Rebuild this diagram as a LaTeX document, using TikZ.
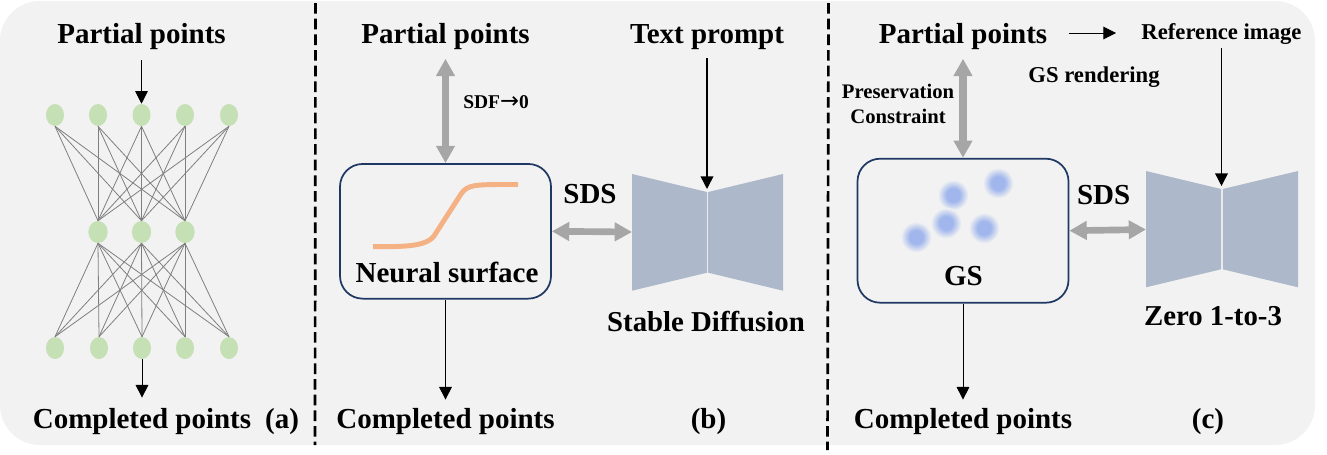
\documentclass[tikz,border=0pt]{standalone}
\usepackage{fontspec}
\setmainfont{Liberation Serif}[BoldFont={Liberation Serif Bold}]
\newfontfamily\arrowfont{DejaVu Sans}
\usetikzlibrary{arrows.meta,shapes.geometric}
\definecolor{panelbg}{HTML}{F2F2F2}
\definecolor{nodegreen}{HTML}{C5E0B4}
\definecolor{edgegray}{HTML}{7F7F7F}
\definecolor{thickgray}{HTML}{A6A6A6}
\definecolor{boxblue}{HTML}{1F3864}
\definecolor{hourglass}{HTML}{ADB9CA}
\definecolor{curveorange}{HTML}{F4B183}
\definecolor{blobblue}{HTML}{A0B6EC}
\pgfdeclareradialshading{blobshade}{\pgfpointorigin}{%
  color(0bp)=(blobblue); color(11bp)=(blobblue); color(25bp)=(panelbg); color(50bp)=(panelbg)}
\tikzset{
  lab/.style={anchor=base,inner sep=0pt,font=\bfseries\fontsize{#1}{#1}\selectfont},
  nn/.style={ellipse,fill=nodegreen,inner sep=0pt,minimum width=13.5pt,minimum height=16.5pt},
  nnmid/.style={nn,minimum width=14.5pt},
  nedge/.style={draw=edgegray,line width=.6pt},
  blackarrow/.style={draw=black,line width=.75pt,-{Triangle[width=9.5pt,length=9.5pt]}},
  heavyarrow/.style={blackarrow,line width=1.1pt},
  grayarrow/.style={draw=thickgray,line width=#1,{Triangle[width=13.5pt,length=13pt]}-{Triangle[width=13.5pt,length=13pt]}},
  roundbox/.style={draw=boxblue,line width=1.3pt,rounded corners=17pt,inner sep=0pt},
  hgshape/.style={fill=hourglass},
  divider/.style={draw=black,line width=2pt,dash pattern=on 8pt off 3.75pt},
  blob/.style={circle,inner sep=0pt,minimum size=23pt,shading=blobshade}
}
\begin{document}
\begin{tikzpicture}[x=.75pt,y=-.75pt]
\useasboundingbox (0,0) rectangle (1327,454);
\fill[white] (0,0) rectangle (1327,454);
\fill[panelbg,rounded corners=30pt] (0,1) rectangle (1315,445);
% dividers
\coordinate (d1a) at (315.5,3); \coordinate (d1b) at (315,445);
\coordinate (d2a) at (828.5,3); \coordinate (d2b) at (827.5,450);
\draw[divider] (d1a) -- (d1b);
\draw[divider] (d2a) -- (d2b);
% panel (a)
\node[lab=21.75pt] (pa) at (141.5,43) {Partial points};
\node[lab=21.75pt] (ca) at (142,428) {Completed points};
\node[lab=21.75pt] (la) at (282,428) {(a)};
\foreach \i/\x in {1/55,2/98,3/141.5,4/185,5/229}
  \node[nn] (t\i) at (\x,115) {};
\foreach \i/\x in {1/98,2/141.5,3/185}
  \node[nnmid] (m\i) at (\x,232) {};
\foreach \i/\x in {1/55,2/99,3/142,4/185,5/229}
  \node[nn] (u\i) at (\x,348) {};
\foreach \i in {1,...,5}
  \foreach \j in {1,2,3} {
    \draw[nedge] (t\i.south) -- (m\j.north);
    \draw[nedge] (m\j.south) -- (u\i.north);
  }
\draw[blackarrow,shorten <=8pt] (pa.south) -- (t3.north);
\draw[blackarrow,shorten >=7.5pt] (u3.south) -- (u3.south |- ca.north);
% panel (b)
\node[lab=21.75pt] (pb) at (445.5,43) {Partial points};
\node[lab=21.75pt] (tp) at (707,43) {Text prompt};
\node[lab=14.6pt] (sdf) at (496,108) {SDF{\arrowfont\mdseries\fontsize{17pt}{17pt}\selectfont →}0};
\node[roundbox,minimum width=158.25pt,minimum height=101pt] (nsbox) at (445.5,231.3) {};
\draw[curveorange,line width=3.7pt] (373,246.7) .. controls (400,246.5) and (425,247.5) .. (434,236)
  -- (461,194) .. controls (468,184) and (475,184.5) .. (518,184.5);
\node[lab=21.75pt] (nst) at (447,282) {Neural surface};
\node[lab=21.75pt] (sdsb) at (590,203) {SDS};
\fill[hgshape] (632,174) -- (707,192) -- (707,272.7) -- (632,290.7) -- cycle;
\fill[hgshape] (708.2,192) -- (783,174) -- (783,290.7) -- (708.2,272.7) -- cycle;
\coordinate (sdwaist) at (707.5,189);
\coordinate (sdleft) at (632,232);
\node[lab=21.6pt] (sdt) at (706,331) {Stable Diffusion};
\node[lab=21.75pt] (cb) at (445.5,428) {Completed points};
\node[lab=21.75pt] (lb) at (708.5,428) {(b)};
\draw[grayarrow=5.5pt,shorten <=7pt] (pb.south) -- (nsbox.north);
\draw[heavyarrow,shorten <=6.5pt] (tp.south) -- (tp.south |- sdwaist);
\draw[grayarrow=5pt] (nsbox.east) -- (sdleft);
\draw[blackarrow,shorten >=6pt] (nsbox.south) -- (nsbox.south |- cb.north);
% panel (c)
\node[lab=21.75pt] (pc) at (963,43) {Partial points};
\node[lab=17pt] (ri) at (1221.5,39) {Reference image};
\node[lab=17pt] (gsr) at (1094,82) {GS rendering};
\node[lab=15.5pt] (pres) at (898,98) {Preservation};
\node[lab=15.5pt] (cons) at (898,123) {Constraint};
\node[roundbox,minimum width=158.25pt,minimum height=108pt] (gsbox) at (963,230.7) {};
\foreach \i/\x/\y in {1/953/195,2/998/183,3/946/223,4/984/228,5/916/237}
  \node[blob] (g\i) at (\x,\y) {};
\node[lab=21.75pt] (gst) at (963.5,285.7) {GS};
\node[lab=21.75pt] (sdsc) at (1103.7,204) {SDS};
\fill[hgshape] (1146,171) -- (1221,189) -- (1221,269.3) -- (1146,287.3) -- cycle;
\fill[hgshape] (1222.8,189) -- (1298,171) -- (1298,287.3) -- (1222.8,269.3) -- cycle;
\coordinate (zwaist) at (1221.5,186);
\coordinate (zleft) at (1146,229.5);
\node[lab=21.6pt] (zt) at (1213,325.7) {Zero 1-to-3};
\node[lab=21.75pt] (cc) at (963,428) {Completed points};
\node[lab=21.75pt] (lc) at (1208,428) {(c)};
\coordinate (hstart) at (1069,33);
\coordinate (hend) at (1116,33);
\draw[blackarrow] (hstart) -- (hend);
\draw[grayarrow=5.5pt,shorten <=7pt] (pc.south) -- (gsbox.north);
\draw[heavyarrow,shorten <=3pt] (ri.south) -- (ri.south |- zwaist);
\draw[grayarrow=5pt] (gsbox.east) -- (zleft);
\draw[blackarrow,shorten >=6pt] (gsbox.south) -- (gsbox.south |- cc.north);
\end{tikzpicture}
\end{document}
